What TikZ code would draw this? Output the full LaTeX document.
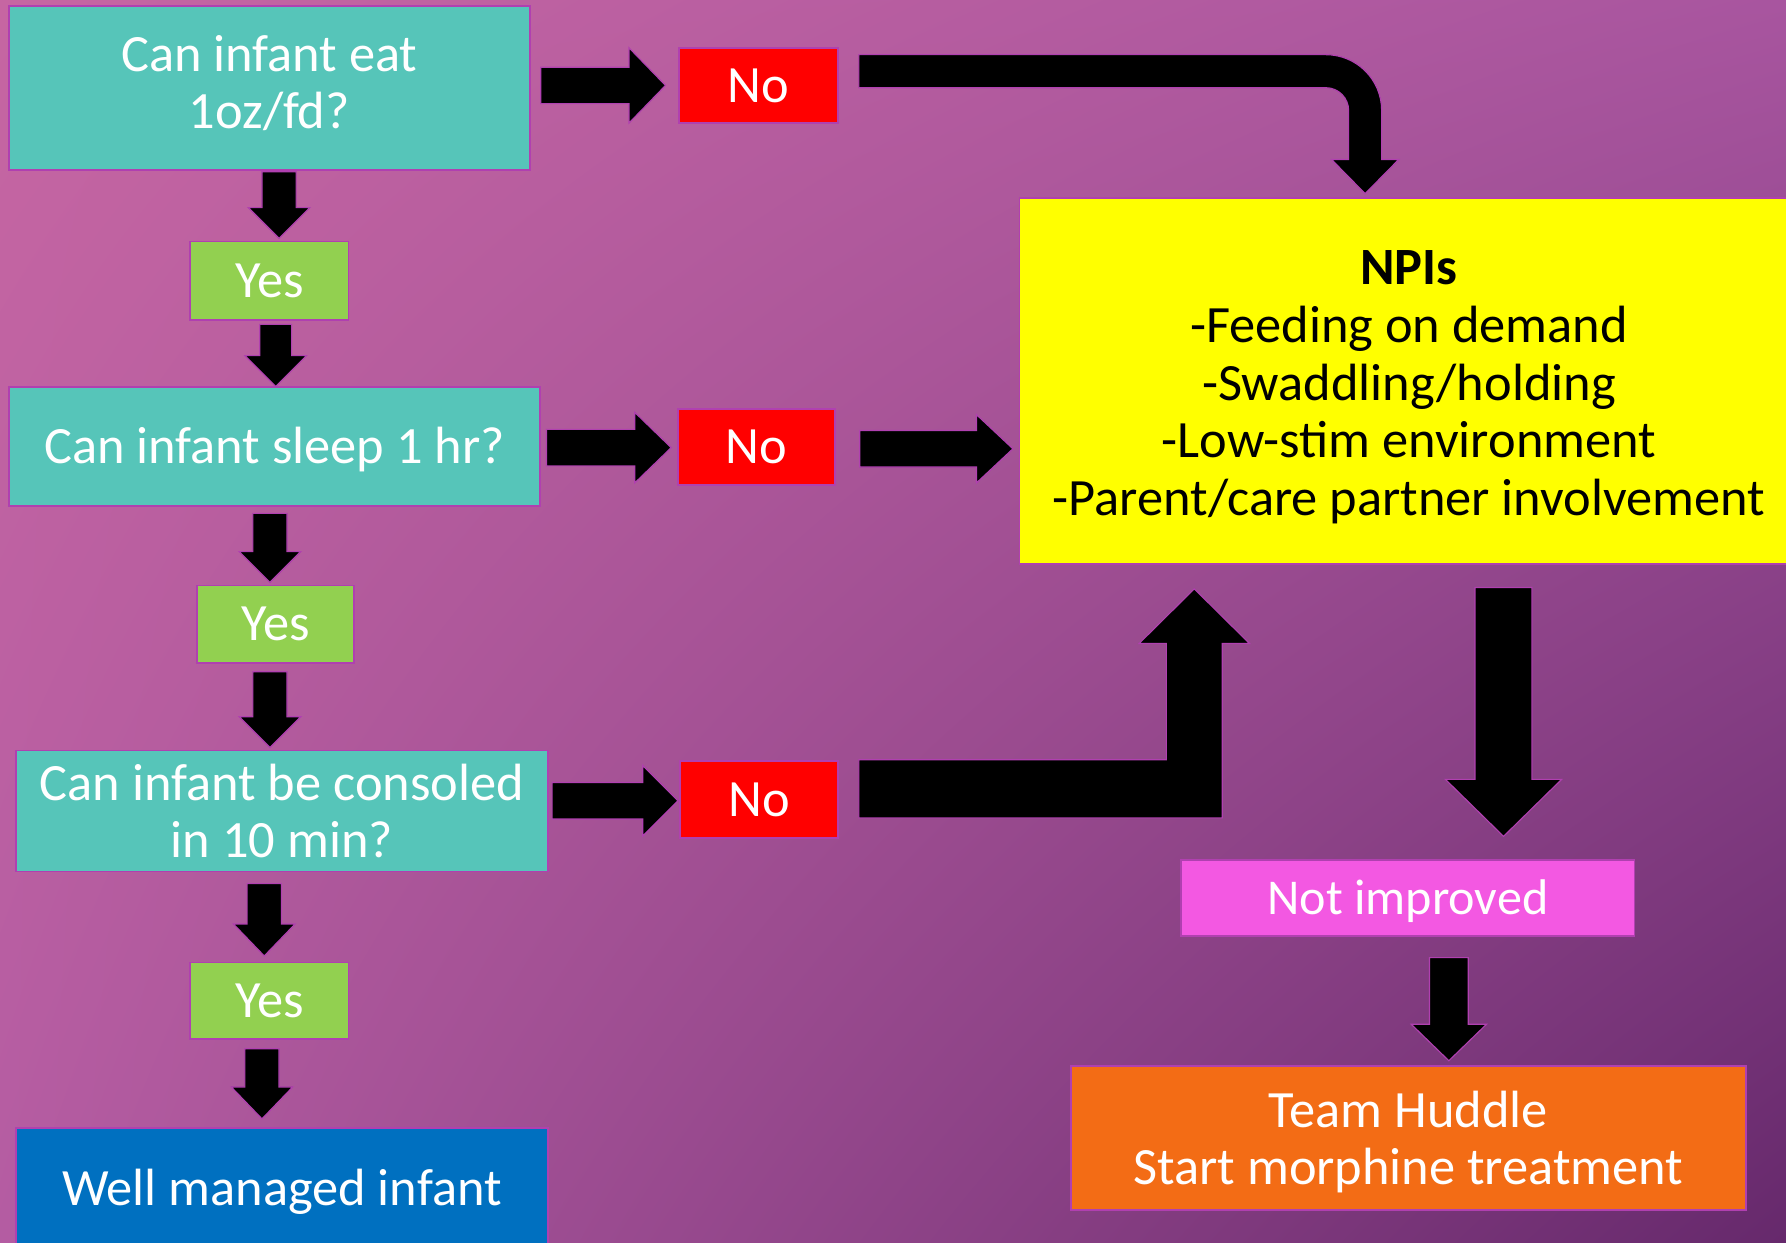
\documentclass[tikz,border=0pt]{standalone}
\usepackage{fontspec}
\setmainfont{Carlito}
\usetikzlibrary{calc,shadings}
\definecolor{tealbox}{HTML}{56C5B9}
\definecolor{yesbox}{HTML}{92D050}
\definecolor{nobox}{HTML}{FF0000}
\definecolor{npibox}{HTML}{FFFF00}
\definecolor{notbox}{HTML}{F358E2}
\definecolor{teambox}{HTML}{F36C15}
\definecolor{wellbox}{HTML}{0070C0}
\definecolor{bord}{HTML}{B040B0}
\definecolor{bgUL}{HTML}{C666A2}
\definecolor{bgUR}{HTML}{A8559F}
\definecolor{bgLL}{HTML}{B45CA2}
\definecolor{bgLR}{HTML}{66296C}
\tikzset{
  box/.style={draw=bord, line width=1.5pt, inner sep=0pt, align=center, text=white,
    font=\fontsize{46}{50}\selectfont},
  blk/.style={fill=black, draw=bord, line width=1pt},
}
% horizontal block arrow: from, to, tail gap, tip gap, y, shaft half, head half, head length
\newcommand\hblock[8]{%
  \path[blk] let \p1=#1, \p2=#2, \n1={\x1+#3pt}, \n2={\x2-#4pt}, \n3={\n2-#8pt} in
    (\n1,{-#5pt+#6pt}) -- (\n3,{-#5pt+#6pt}) -- (\n3,{-#5pt+#7pt}) --
    (\n2,{-#5pt}) -- (\n3,{-#5pt-#7pt}) -- (\n3,{-#5pt-#6pt}) --
    (\n1,{-#5pt-#6pt}) -- cycle;}
% vertical block arrow: from, to, top gap, tip gap, x, shaft half, head half, head length
\newcommand\vblock[8]{%
  \path[blk] let \p1=#1, \p2=#2, \n1={\y1-#3pt}, \n2={\y2+#4pt}, \n3={\n2+#8pt} in
    ({#5pt-#6pt},\n1) -- ({#5pt-#6pt},\n3) -- ({#5pt-#7pt},\n3) --
    ({#5pt},\n2) -- ({#5pt+#7pt},\n3) -- ({#5pt+#6pt},\n3) --
    ({#5pt+#6pt},\n1) -- cycle;}
\begin{document}
\begin{tikzpicture}[x=1pt,y=-1pt]
\useasboundingbox (0,0) rectangle (1568,1091);
\shade[upper left=bgUL, upper right=bgUR, lower left=bgLL, lower right=bgLR] (0,0) rectangle (1568,1091);

% left column
\node[box, fill=tealbox, minimum width=457, minimum height=144] (b1) at (236.5,77) {Can infant eat\\1oz/fd?\rule[-10pt]{0pt}{1pt}};
\node[box, fill=yesbox, minimum width=139, minimum height=69] (y1) at (236.5,246.5) {Yes};
\node[box, fill=tealbox, minimum width=466, minimum height=104] (b2) at (241,392) {\rule{0pt}{38pt}Can infant sleep 1 hr?};
\node[box, fill=yesbox, minimum width=138, minimum height=68] (y2) at (242,548) {Yes};
\node[box, fill=tealbox, minimum width=467, minimum height=106] (b3) at (247.5,712) {Can infant be consoled\\in 10 min?};
\node[box, fill=yesbox, minimum width=139, minimum height=67] (y3) at (236.5,878.5) {Yes};
\node[box, fill=wellbox, minimum width=467, minimum height=106] (well) at (247.5,1043) {\rule{0pt}{38pt}Well managed infant};

% no boxes
\node[box, fill=nobox, minimum width=140, minimum height=66] (n1) at (666,75) {No};
\node[box, fill=nobox, minimum width=138, minimum height=67] (n2) at (664,392.5) {No};
\node[box, fill=nobox, minimum width=139, minimum height=68] (n3) at (666.5,702) {No};

% right column
\node[box, fill=npibox, text=black, minimum width=684, minimum height=321,
  font=\fontsize{46}{50.7}\selectfont] (npi) at (1237,334.5)
  {\rule{0pt}{41pt}\textbf{NPIs}\\-Feeding on demand\\-Swaddling/holding\\-Low-stim environment\\-Parent/care partner involvement};
\node[box, fill=notbox, minimum width=398, minimum height=67, font=\fontsize{44}{50}\selectfont] (ni) at (1236,788.5) {\rule{0pt}{36pt}Not improved};
\node[box, fill=teambox, minimum width=593, minimum height=126] (team) at (1236.5,999) {\rule{0pt}{40pt}Team Huddle\\Start morphine treatment};

% vertical arrows
\vblock{(b1.south)}{(y1.north)}{1}{2}{245}{15}{27}{27}
\vblock{(y1.south)}{(b2.north)}{3}{0}{242}{14}{27}{27}
\vblock{(b2.south)}{(y2.north)}{6}{2}{237}{15}{27}{27}
\vblock{(y2.south)}{(b3.north)}{7}{2}{237}{15}{27}{27}
\vblock{(b3.south)}{(y3.north)}{10}{5}{232}{15}{27}{28}
\vblock{(y3.south)}{(well.north)}{8}{7}{230}{15}{27}{28}
\vblock{(npi.south)}{(ni.north)}{20}{20}{1320}{25}{51}{50}
\vblock{(ni.south)}{(team.north)}{18}{4}{1272}{17}{33}{32}

% horizontal arrows
\hblock{(b1.east)}{(n1.west)}{9}{11}{75}{16}{33}{32}
\hblock{(b2.east)}{(n2.west)}{5}{5}{393}{16}{31}{32}
\hblock{(b3.east)}{(n3.west)}{3}{1}{703}{16}{31}{31}
\hblock{(n2.east)}{(npi.west)}{21}{5}{394}{16}{30}{32}

% curved arrow No -> NPIs
\path[blk] (754,48) -- (1164,48) arc[start angle=-90, end angle=0, radius=49] -- (1213,140) -- (1228,140)
  -- (1198.5,170) -- (1169,140) -- (1184,140) -- (1184,97) arc[start angle=0, end angle=-90, radius=20]
  -- (754,77) -- cycle;
% L-shaped arrow No -> NPIs
\path[blk] (754,667) -- (1024,667) -- (1024,565) -- (1000,565) -- (1048.5,517) -- (1097,565)
  -- (1073,565) -- (1073,718) -- (754,718) -- cycle;
\end{tikzpicture}
\end{document}
